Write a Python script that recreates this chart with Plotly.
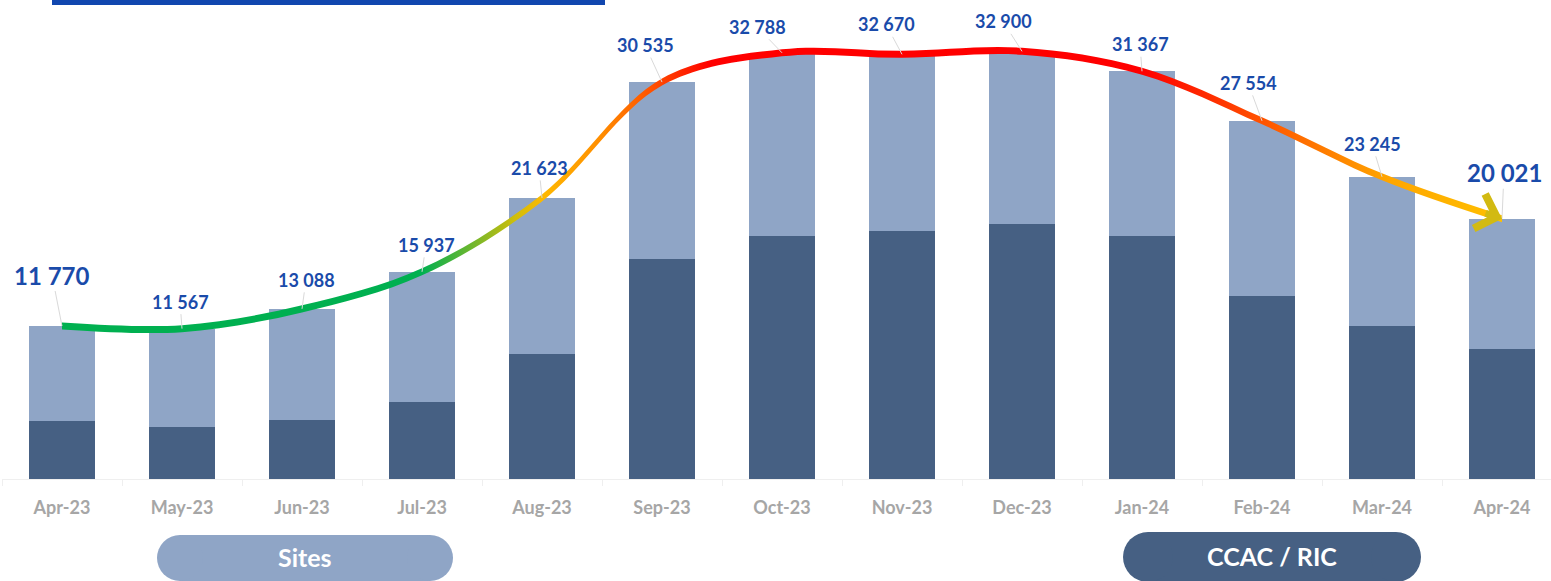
import plotly.graph_objects as go

# Monthly totals (labels above the bars) and the dark CCAC / RIC part
months = ["Apr-23", "May-23", "Jun-23", "Jul-23", "Aug-23", "Sep-23", "Oct-23",
          "Nov-23", "Dec-23", "Jan-24", "Feb-24", "Mar-24", "Apr-24"]
totals = [11770, 11567, 13088, 15937, 21623, 30535, 32788,
          32670, 32900, 31367, 27554, 23245, 20021]
ccac_ric = [4460, 4020, 4540, 5950, 9590, 16950, 18720,
            19080, 19640, 18720, 14100, 11790, 10020]
sites = [t - c for t, c in zip(totals, ccac_ric)]

# label offsets (pixels) from the top of each bar
label_dx = [-10, -2, 4, 4, -3, -17, -25, -16, -19, -2, -14, -10, 2]
label_dy = [-51, -27, -29, -27, -30, -37, -26, -30, -30, -27, -38, -33, -46]

FONT = "Lato"
BLUE = "#1A4BAA"
DARK = "#466083"
LIGHT = "#8FA5C6"

# plot area in pixels (used to place the decorations in the margins)
W, H = 1551, 581
L, T, B = 2, 0, 102
PW, PH = W - L, H - T - B


def px_x(px):
    return (px - L) / PW


def px_y(py):
    return (PH + T - py) / PH


fig = go.Figure()

# 1. Stacked bars
fig.add_trace(go.Bar(x=months, y=ccac_ric, name="CCAC / RIC",
                     marker=dict(color=DARK, line=dict(width=0))))
fig.add_trace(go.Bar(x=months, y=sites, name="Sites",
                     marker=dict(color=LIGHT, line=dict(width=0))))

# 2. Trend line as a thin band with a horizontal colour gradient
half = 270
fig.add_trace(go.Scatter(x=months, y=[t - half for t in totals], mode="lines",
                         line=dict(width=0, shape="spline"), hoverinfo="skip"))
fig.add_trace(go.Scatter(
    x=months, y=[t + half for t in totals], mode="lines",
    line=dict(width=0, shape="spline"), hoverinfo="skip", fill="tonexty",
    fillgradient=dict(type="horizontal", colorscale=[
        [0.0, "#00B050"], [0.25, "#00B050"], [0.29, "#80B828"],
        [0.315, "#D0BE0A"], [0.335, "#FFB800"], [0.375, "#FF8C00"],
        [0.41, "#FF5000"], [0.45, "#FF0000"], [0.75, "#FF0000"],
        [0.80, "#FF3000"], [0.84, "#FF5A00"], [0.88, "#FF8000"],
        [0.92, "#FFA500"], [1.0, "#FFC000"],
    ]),
))

# 3. Value labels with leader lines
annotations = []
for i, (m, t) in enumerate(zip(months, totals)):
    big = i in (0, len(totals) - 1)
    annotations.append(dict(
        x=m, y=t, xref="x", yref="y", text=f"{t:,}".replace(",", " "),
        showarrow=True, arrowhead=0, arrowwidth=1, arrowcolor="#D9D9D9",
        standoff=0, ax=label_dx[i], ay=label_dy[i],
        font=dict(family=FONT, size=24 if big else 18, color=BLUE, weight="bold"),
    ))

# arrow head at the end of the trend line
annotations.append(dict(
    x=months[-1], y=totals[-1], xref="x", yref="y", text=" ",
    font=dict(size=1), showarrow=True, arrowhead=4, arrowsize=1.0,
    arrowwidth=7, arrowcolor="#D2BA12", standoff=0, ax=-18, ay=-6,
))

# 4. Pill shaped legend buttons
shapes = [
    dict(type="rect", xref="paper", yref="paper", x0=px_x(52), x1=px_x(605),
         y0=px_y(5), y1=px_y(-20), fillcolor="#1147AF", line=dict(width=0)),
]
for left, right, top, bottom, color, label in [
    (157, 453, 535, 581, LIGHT, "Sites"),
    (1123, 1421, 532, 582, DARK, "CCAC / RIC"),
]:
    r = (bottom - top) / 2
    shapes.append(dict(type="rect", xref="paper", yref="paper",
                       x0=px_x(left + r), x1=px_x(right - r),
                       y0=px_y(bottom), y1=px_y(top),
                       fillcolor=color, line=dict(width=0)))
    for cx in (left + r, right - r):
        shapes.append(dict(type="circle", xref="paper", yref="paper",
                           x0=px_x(cx - r), x1=px_x(cx + r),
                           y0=px_y(bottom), y1=px_y(top),
                           fillcolor=color, line=dict(width=0)))
    annotations.append(dict(
        x=px_x((left + right) / 2), y=px_y((top + bottom) / 2 - 1),
        xref="paper", yref="paper", text=label, showarrow=False,
        xanchor="center", yanchor="middle",
        font=dict(family=FONT, size=25, color="white", weight="bold"),
    ))

# 5. Layout
fig.update_layout(
    width=W, height=H, barmode="stack", bargap=0.458,
    margin=dict(l=L, r=0, t=T, b=B),
    plot_bgcolor="white", paper_bgcolor="white", showlegend=False,
    shapes=shapes, annotations=annotations,
    xaxis=dict(
        type="category", range=[-0.5, -0.5 + PW / 120], showgrid=False,
        showline=True, linecolor="#EFEFEF", linewidth=1,
        ticks="outside", tickson="boundaries", ticklen=6, tickcolor="#EFEFEF",
        ticklabelstandoff=12,
        tickfont=dict(family=FONT, size=18, color="#A6A6A6", weight="bold"),
    ),
    yaxis=dict(range=[0, PH * 76.93], visible=False, showgrid=False),
)

# drop the default page margin so the chart sits at the window's corner
fig.write_html("out.html", config={"displayModeBar": False},
               post_script="document.body.style.margin='0';")
